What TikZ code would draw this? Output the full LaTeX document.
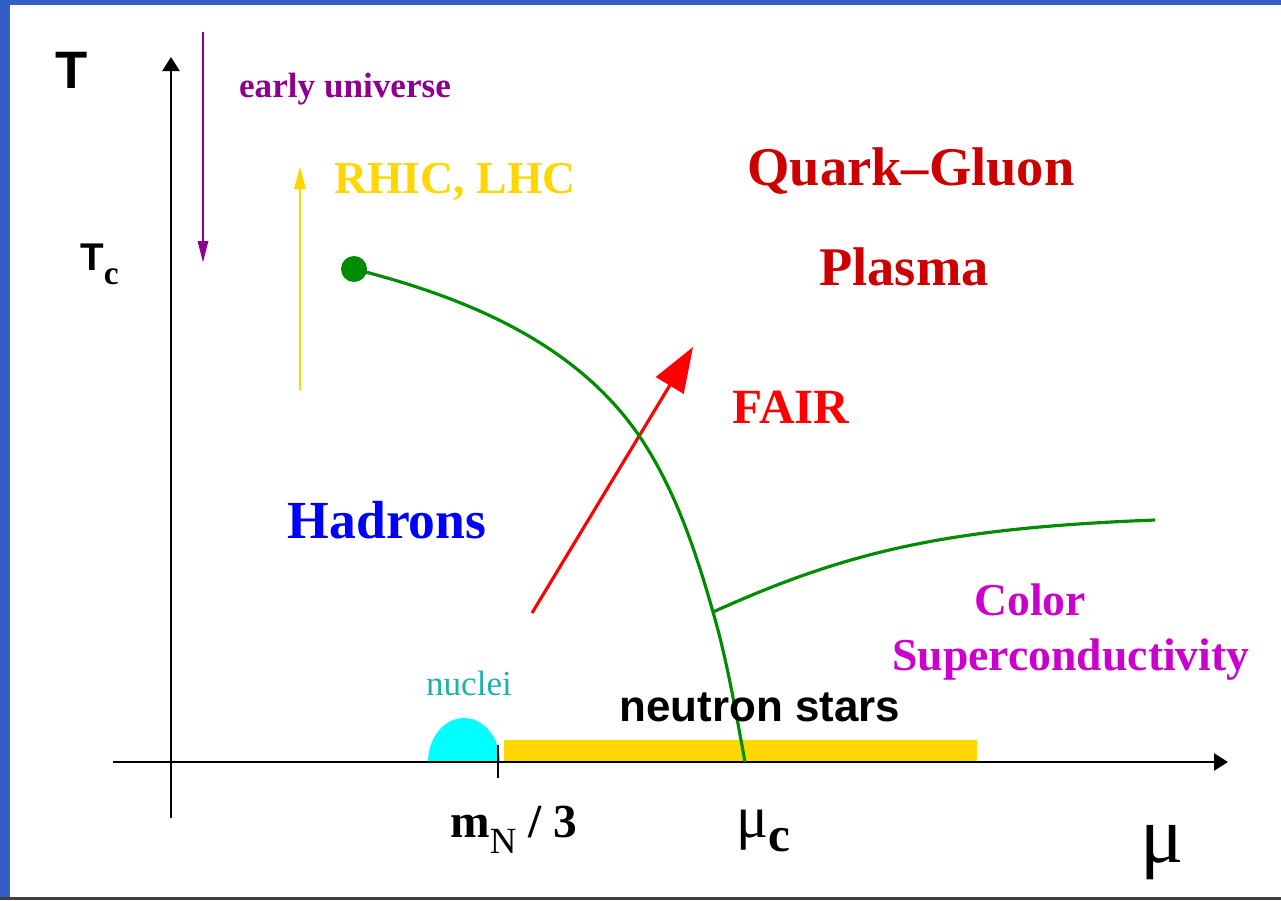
\documentclass[tikz,border=0pt]{standalone}
\usepackage{fontspec}
\setmainfont{Liberation Serif}
\setsansfont{Liberation Sans}
\usepackage{xcolor}
\usetikzlibrary{arrows.meta}

\definecolor{slideblue}{RGB}{51,94,198}
\definecolor{univpurple}{RGB}{140,0,140}
\definecolor{rhicgold}{RGB}{255,215,0}
\definecolor{qgpred}{RGB}{204,0,0}
\definecolor{hadblue}{RGB}{0,0,255}
\definecolor{csmagenta}{RGB}{204,0,204}
\definecolor{nucteal}{RGB}{32,178,170}
\definecolor{nuccyan}{RGB}{0,255,255}
\definecolor{lineGreen}{RGB}{0,140,0}

\begin{document}
\begin{tikzpicture}[x=0.02cm, y=-0.02cm, >=Triangle,
  lbl/.style={anchor=base, inner sep=0pt, font=\bfseries\fontsize{#1}{#1}\selectfont},
  axis/.style={line width=1.5pt, -{Triangle[length=0.28cm, width=0.34cm]}},
  phase/.style={lineGreen, line width=1.8pt}]
  \useasboundingbox (0,0) rectangle (1281,900);
  % frame of the slide
  \fill[slideblue] (0,0) rectangle (1281,5);
  \fill[slideblue] (0,0) rectangle (10,900);
  \fill[black!75] (0,897) rectangle (1281,900);

  % nuclei and neutron stars on the axis
  \fill[nuccyan] (428,762) arc[start angle=180, end angle=360, x radius=36, y radius=44] -- cycle;
  \fill[rhicgold] (504,740) rectangle (977,762);

  % axes
  \coordinate (Tlow) at (171,818);
  \coordinate (Ttop) at (171,57);
  \coordinate (mulow) at (113,762);
  \coordinate (mutop) at (1228,762);
  \draw[axis] (Tlow) -- (Ttop);
  \draw[axis] (mulow) -- (mutop);
  \coordinate (tickA) at (498,745);
  \coordinate (tickB) at (498,778);
  \draw[line width=1.4pt] (tickA) -- (tickB);

  \node[lbl=30, font=\sffamily\bfseries\fontsize{30}{30}\selectfont] (Tlabel) at (72,88) {T};
  \node[lbl=22, anchor=base west, font=\sffamily\bfseries\fontsize{22}{22}\selectfont] (Tclabel) at (80,270)
    {T\raisebox{-8.5pt}{\rmfamily\bfseries\fontsize{19}{19}\selectfont c}};

  % experiments
  \coordinate (univA) at (203,32);
  \coordinate (univB) at (203,263);
  \draw[univpurple, line width=1.7pt, -{Triangle[length=0.44cm, width=0.2cm]}] (univA) -- (univB);
  \node[lbl=20, univpurple] (early) at (345,97) {early universe};
  \coordinate (rhicA) at (300,390);
  \coordinate (rhicB) at (300,166);
  \draw[rhicgold, line width=1.7pt, -{Triangle[length=0.46cm, width=0.22cm]}] (rhicA) -- (rhicB);
  \node[lbl=26, rhicgold] (rhic) at (455,193) {RHIC, LHC};
  \coordinate (fairA) at (532,613);
  \coordinate (fairB) at (693,347);
  \draw[red, line width=1.8pt, -{Triangle[length=0.9cm, width=0.64cm]}] (fairA) -- (fairB);
  \node[lbl=28, red] (fair) at (791,423) {FAIR};

  % phase boundary
  \coordinate (cep) at (354,269);
  \coordinate (bend) at (640,437);
  \coordinate (trip) at (713,612);
  \coordinate (muc) at (745,762);
  \draw[phase] (cep) .. controls (473,299) and (578,346) .. (bend)
    .. controls (675,489) and (696,552) .. (trip)
    .. controls (727,660) and (736,713) .. (muc);
  \draw[phase] (trip) .. controls (850,550) and (950,528) .. (1155,520);
  \fill[lineGreen] (cep) circle[radius=13];

  % phases
  \node[lbl=31, qgpred] (quark) at (911,185) {Quark{\fontsize{31}{31}\selectfont\textendash}Gluon};
  \node[lbl=31, qgpred] (plasma) at (904,285) {Plasma};
  \node[lbl=30.5, hadblue] (hadrons) at (387,538) {Hadrons};
  \node[lbl=26, csmagenta] (color) at (1030,615) {Color};
  \node[lbl=26, csmagenta] (supercond) at (1071,670) {Superconductivity};
  \node[anchor=base, inner sep=0pt, nucteal, font=\fontsize{20}{20}\selectfont] (nuclei) at (469,695) {nuclei};
  \node[lbl=25, font=\sffamily\bfseries\fontsize{25}{25}\selectfont] (nstars) at (760,721) {neutron stars};

  % axis labels
  \node[lbl=27, anchor=base west] (mN) at (450,837)
    {m\raisebox{-0.34em}{\mdseries\fontsize{21}{21}\selectfont N} / 3};
  \node[anchor=base west, inner sep=0pt, font=\fontsize{34}{34}\selectfont] (mucl) at (736,837)
    {μ\raisebox{-0.24em}{\bfseries\fontsize{28}{28}\selectfont c}};
  \node[anchor=base, inner sep=0pt, font=\fontsize{46}{46}\selectfont] (mu) at (1162,862) {μ};
\end{tikzpicture}
\end{document}
